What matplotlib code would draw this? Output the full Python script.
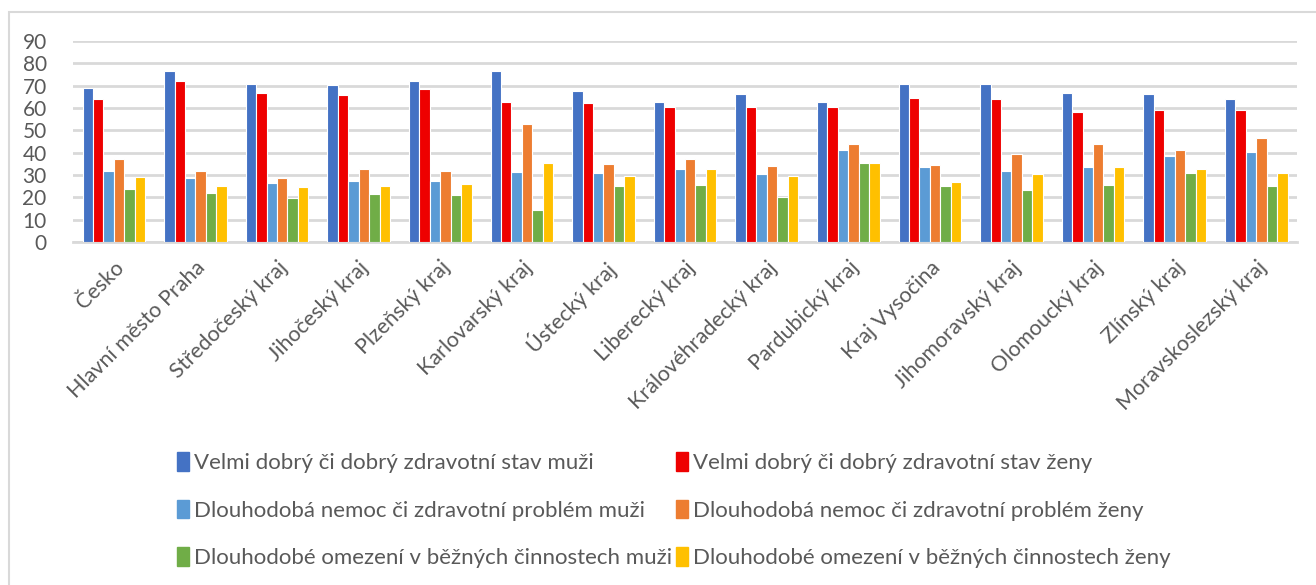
import numpy as np
import matplotlib
matplotlib.use("Agg")
from matplotlib import pyplot as plt
from matplotlib.patches import Patch, Rectangle

# kraje
kraje = ["Česko", "Hlavní město Praha", "Středočeský kraj", "Jihočeský kraj",
         "Plzeňský kraj", "Karlovarský kraj", "Ústecký kraj", "Liberecký kraj",
         "Královéhradecký kraj", "Pardubický kraj", "Kraj Vysočina",
         "Jihomoravský kraj", "Olomoucký kraj", "Zlínský kraj",
         "Moravskoslezský kraj"]

# hodnoty
dobry_muzi = [69.1, 76.7, 70.9, 70.3, 72.1, 76.5, 67.5, 62.8, 66.3, 62.8, 70.9, 70.9, 66.9, 66.3, 64.0]
dobry_zeny = [64.0, 72.1, 66.9, 65.7, 68.5, 62.8, 62.2, 60.4, 60.4, 60.4, 64.5, 64.0, 58.1, 59.3, 59.3]
nemoc_muzi = [31.9, 28.6, 26.4, 27.4, 27.4, 31.5, 30.9, 32.7, 30.3, 41.4, 33.7, 31.9, 33.7, 38.4, 40.1]
nemoc_zeny = [37.3, 31.9, 28.6, 32.7, 31.9, 52.9, 35.1, 37.3, 33.9, 43.7, 34.3, 39.6, 44.1, 41.4, 46.5]
omez_muzi = [23.9, 22.1, 19.9, 21.5, 21.0, 14.2, 25.1, 25.6, 20.0, 35.5, 25.1, 23.3, 25.6, 30.9, 25.1]
omez_zeny = [29.2, 25.1, 24.5, 25.1, 26.0, 35.5, 29.4, 32.7, 29.4, 35.5, 26.8, 30.3, 33.7, 32.7, 30.9]

serie = [
    ("Velmi dobrý či dobrý zdravotní stav muži", dobry_muzi, "#4472C4"),
    ("Velmi dobrý či dobrý zdravotní stav ženy", dobry_zeny, "#EE0000"),
    ("Dlouhodobá nemoc či zdravotní problém muži", nemoc_muzi, "#5B9BD5"),
    ("Dlouhodobá nemoc či zdravotní problém ženy", nemoc_zeny, "#ED7D31"),
    ("Dlouhodobé omezení v běžných činnostech muži", omez_muzi, "#70AD47"),
    ("Dlouhodobé omezení v běžných činnostech ženy", omez_zeny, "#FFC000"),
]

plt.rcParams['font.family'] = ['Lato', 'DejaVu Sans']
seda = "#595959"

fig = plt.figure(figsize=(13.16, 5.85), dpi=100)
ax = fig.add_axes([0.0555, 0.5863, 0.9301, 0.3436])

x = np.arange(len(kraje))
sirka = 0.128
for i, (nazev, hodnoty, barva) in enumerate(serie):
    ax.bar(x + (i - 2.5) * sirka, hodnoty, sirka, color=barva,
           edgecolor="white", linewidth=0.8, label=nazev, zorder=3)

ax.set_xlim(-0.5, len(kraje) - 0.5)
ax.set_ylim(0, 90)
ax.set_yticks(range(0, 91, 10))
ax.yaxis.grid(True, color="#d9d9d9", linewidth=2, zorder=0)
ax.set_axisbelow(True)
for s in ["top", "right", "left"]:
    ax.spines[s].set_visible(False)
ax.spines["bottom"].set_color("#d9d9d9")
ax.spines["bottom"].set_linewidth(2)
ax.tick_params(axis="both", length=0, colors=seda)
ax.tick_params(axis="y", pad=19, labelsize=15)
ax.set_xticks(x)
ax.set_xticklabels(kraje, rotation=45, ha="right", rotation_mode="anchor",
                   fontsize=15.5)
ax.tick_params(axis="x", pad=11)

# ramecek grafu
fig.patches.append(Rectangle((9 / 1316, -0.1), 1.2, 1 - 12 / 585 + 0.1,
                             transform=fig.transFigure, fill=False,
                             edgecolor="#d9d9d9", linewidth=1.5))

# legenda po radcich (matplotlib plni po sloupcich)
poradi = [0, 2, 4, 1, 3, 5]
handles = [Patch(color=serie[k][2], label=serie[k][0]) for k in poradi]
fig.legend(handles=handles, loc="center", bbox_to_anchor=(0.512, 0.128),
           ncol=2, frameon=False, fontsize=16, labelcolor=seda,
           handlelength=0.55, handleheight=0.9, handletextpad=0.2,
           columnspacing=0.2, labelspacing=1.2)

fig.savefig("out.png", dpi=100)
